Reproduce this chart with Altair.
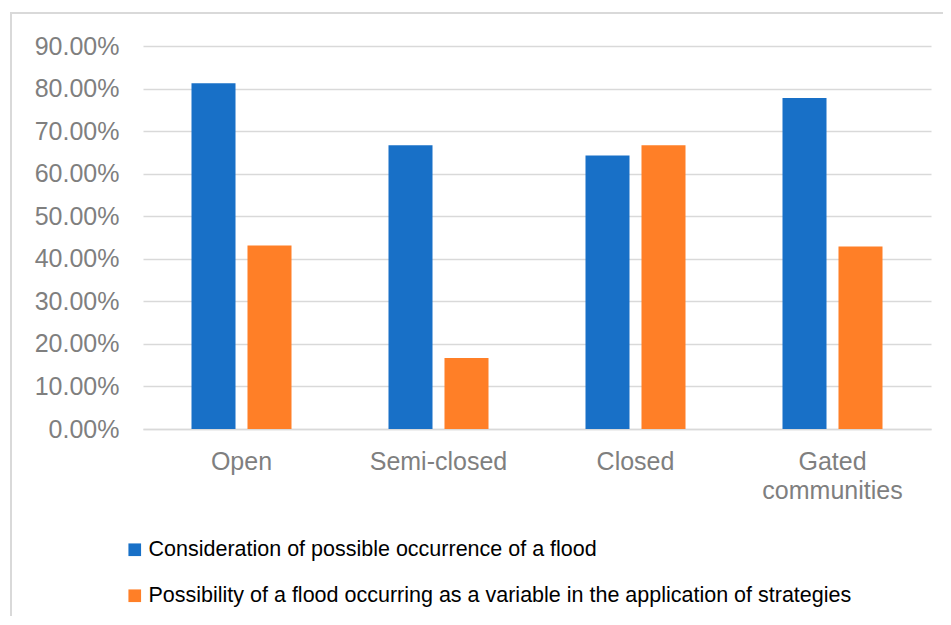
import altair as alt
import pandas as pd

categories = ["Open", "Semi-closed", "Closed", "Gated communities"]
series_names = [
    "Consideration of possible occurrence of a flood",
    "Possibility of a flood occurring as a variable in the application of strategies",
]
consideration = [0.8125, 0.6667, 0.6429, 0.7778]
possibility = [0.431, 0.1667, 0.6667, 0.4286]
y_ticks = [0, 0.1, 0.2, 0.3, 0.4, 0.5, 0.6, 0.7, 0.8, 0.9]
colors = ["#1870C7", "#FF7F27"]

rows = []
for c, a, b in zip(categories, consideration, possibility):
    rows.append({"category": c, "series": series_names[0], "value": a})
    rows.append({"category": c, "series": series_names[1], "value": b})
df = pd.DataFrame(rows)

label_font = "Liberation Sans"
label_color = "#7F7F7F"

bars = alt.Chart(df).mark_bar().encode(
    x=alt.X(
        "category:N",
        sort=categories,
        scale=alt.Scale(paddingInner=0, paddingOuter=0),
        axis=alt.Axis(
            title=None,
            labelAngle=0,
            ticks=False,
            domainColor="#D9D9D9",
            domainWidth=1.5,
            labelPadding=20,
            labelLineHeight=29,
            labelFont=label_font,
            labelFontSize=25,
            labelColor=label_color,
            labelExpr="datum.value == 'Gated communities' ? ['Gated', 'communities'] : datum.value",
        ),
    ),
    xOffset=alt.XOffset(
        "series:N",
        sort=series_names,
        scale=alt.Scale(paddingInner=0.214, paddingOuter=0.866),
    ),
    y=alt.Y(
        "value:Q",
        scale=alt.Scale(domain=[0, 0.9], nice=False),
        axis=alt.Axis(
            title=None,
            format=".2%",
            values=y_ticks,
            ticks=False,
            domain=False,
            labelPadding=24,
            labelFont=label_font,
            labelFontSize=25,
            labelColor=label_color,
            gridColor="#D9D9D9",
            gridWidth=1.5,
        ),
    ),
    color=alt.Color(
        "series:N",
        sort=series_names,
        scale=alt.Scale(domain=series_names, range=colors),
        legend=alt.Legend(
            title=None,
            orient="none",
            legendX=-19,
            legendY=493,
            symbolType="square",
            symbolSize=160,
            symbolStrokeWidth=0,
            labelFont="Liberation Sans Narrow, Arial Narrow, Liberation Sans",
            labelFontSize=21.5,
            labelColor="#000000",
            labelLimit=900,
            labelOffset=3,
            rowPadding=23,
            direction="vertical",
        ),
    ),
)

border = alt.Chart(alt.Data(values=[{}])).mark_rect(
    fill=None, stroke="#D9D9D9", strokeWidth=2
).encode(
    x=alt.value(-132),
    x2=alt.value(1000),
    y=alt.value(-33),
    y2=alt.value(800),
)

chart = alt.layer(border, bars).properties(
    width=788,
    height=383,
    padding={"left": 135, "top": 38, "right": 12, "bottom": 187},
    autosize=alt.AutoSizeParams(type="none"),
    background="white",
).configure_view(stroke=None)

chart.save("out.html", embed_options={"renderer": "svg", "actions": False})
